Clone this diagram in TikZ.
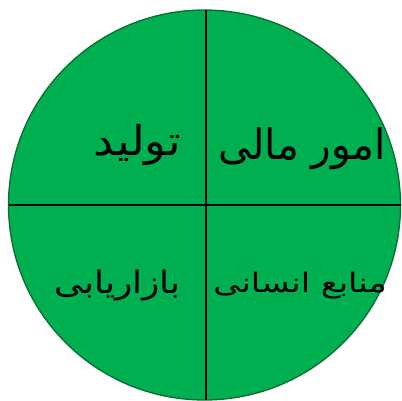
\documentclass[tikz,border=0pt]{standalone}
\usepackage{fontspec}
\newfontfamily\arabicfont[Script=Arabic]{DejaVu Sans}
\TeXXeTstate=1
\definecolor{segfill}{HTML}{00B050}
\definecolor{segline}{HTML}{0B6B30}
\begin{document}
\begin{tikzpicture}[x=1pt,y=-1pt,
  lbl/.style={font=\arabicfont, inner sep=0pt, anchor=base east}]
\useasboundingbox (0,0) rectangle (402,400);
\draw[segline, fill=segfill, line width=1.3pt] (204.5,205) ellipse [x radius=196, y radius=195];
\coordinate (top) at (206,10);
\coordinate (bot) at (206,400);
\coordinate (lft) at (8.5,205);
\coordinate (rgt) at (400.5,205);
\draw[black, line width=1.2pt] (top) -- (bot);
\draw[black, line width=1.2pt] (lft) -- (rgt);
\node[lbl] (fin) at (386,159) {\scalebox{0.97}[1]{\fontsize{42}{46}\selectfont\beginR امور مالی\endR}};
\node[lbl] (prod) at (181,155) {\scalebox{1.1}[1]{\fontsize{41}{44}\selectfont\beginR تولید\endR}};
\node[lbl] (hr) at (387,292) {\scalebox{1.25}[1]{\fontsize{27}{30}\selectfont\beginR منابع انسانی\endR}};
\node[lbl] (mkt) at (181,293) {\scalebox{1.16}[1]{\fontsize{31}{34}\selectfont\beginR بازاریابی\endR}};
\end{tikzpicture}
\end{document}
